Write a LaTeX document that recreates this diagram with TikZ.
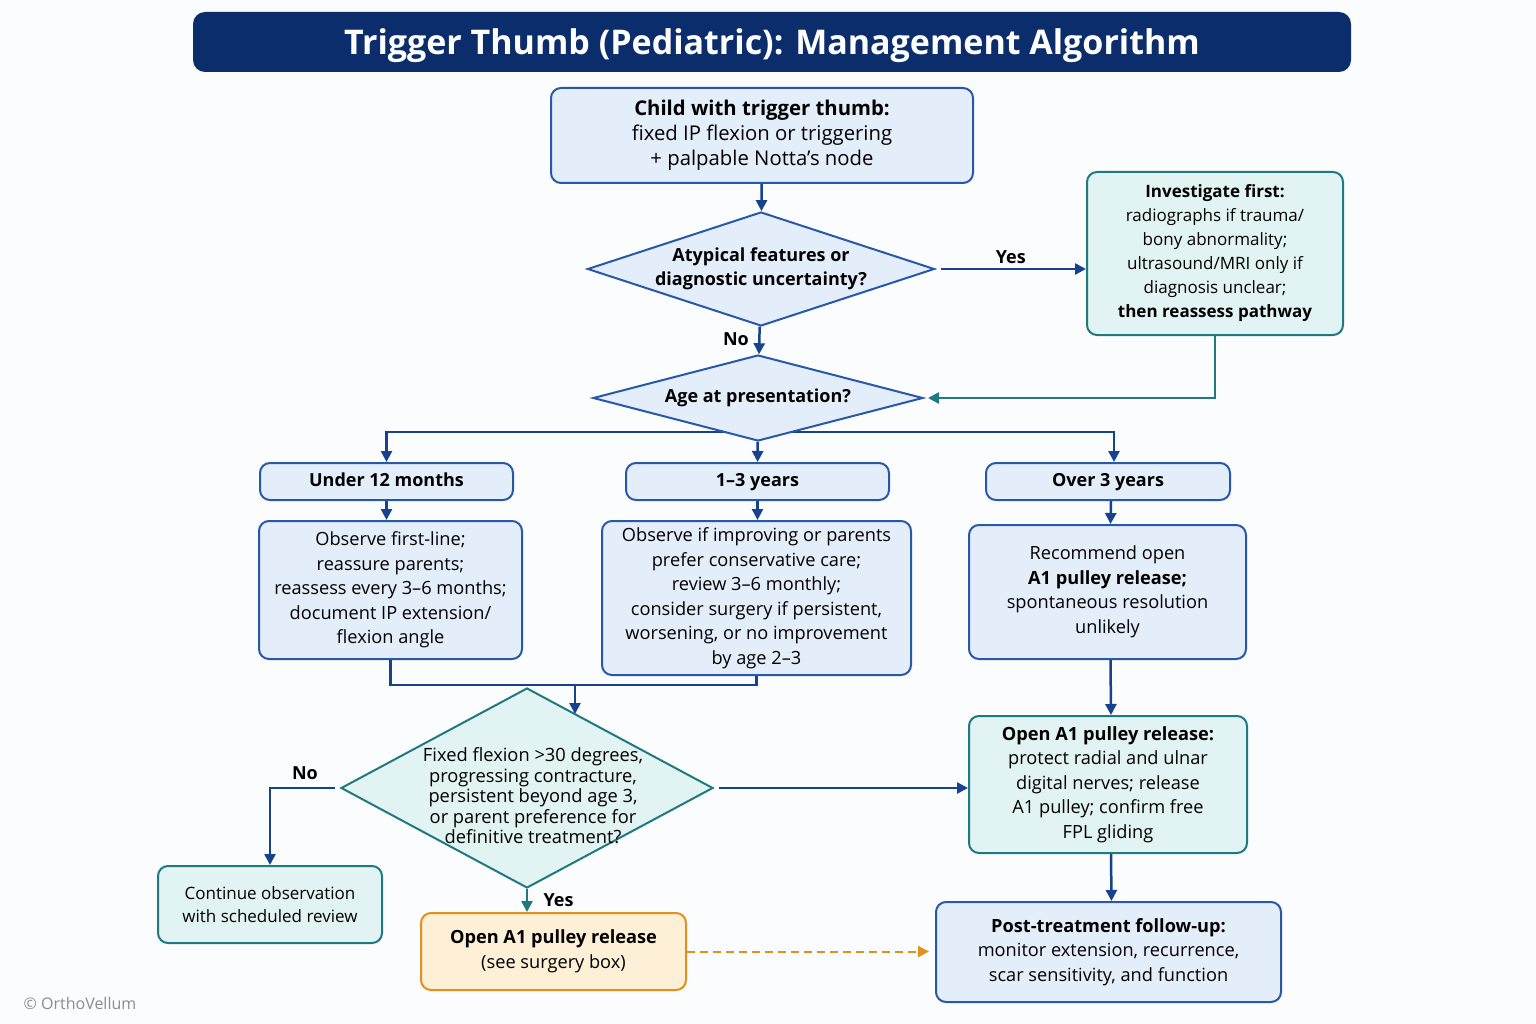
\documentclass[tikz,border=0pt]{standalone}
\usepackage{fontspec}
\setmainfont{Open Sans}
\usetikzlibrary{shapes.geometric,arrows.meta,backgrounds}
\definecolor{navy}{HTML}{0B2D6B}
\definecolor{boxblue}{HTML}{2858A8}
\definecolor{fillblue}{HTML}{E4EEFA}
\definecolor{tealline}{HTML}{1F7A80}
\definecolor{fillteal}{HTML}{E2F3F4}
\definecolor{orangeline}{HTML}{E0901C}
\definecolor{fillorange}{HTML}{FDF0D6}
\definecolor{arrowblue}{HTML}{17428E}
\definecolor{pagebg}{HTML}{FBFCFE}

\begin{document}
\begin{tikzpicture}[x=1pt, y=-1pt,
    bluebox/.style={rectangle, rounded corners=10pt, draw=boxblue, fill=fillblue, line width=2pt,
        align=center, inner sep=0pt, font=\fontsize{18.2}{24.5}\selectfont},
    tealbox/.style={bluebox, draw=tealline, fill=fillteal},
    orangebox/.style={bluebox, draw=orangeline, fill=fillorange},
    agebox/.style={bluebox, minimum height=37pt, text height=13pt, text depth=3pt, font=\bfseries\fontsize{18}{22}\selectfont},
    decision/.style={diamond, draw=boxblue, fill=fillblue, line width=2pt, align=center, inner sep=-40pt},
    flow/.style={draw=arrowblue, line width=2.5pt, -{Triangle[length=11pt,width=11pt]}},
    tealflow/.style={flow, draw=tealline},
    lbl/.style={font=\bfseries\fontsize{18}{20}\selectfont}]
    \useasboundingbox (0,0) rectangle (1536,1024);
    \begin{pgfonlayer}{background}
        \fill[pagebg] (0,0) rectangle (1536,1024);
    \end{pgfonlayer}

    % Title
    \node [rectangle, rounded corners=12pt, fill=navy, text=white, minimum width=1158pt, minimum height=60pt,
        text height=30pt, text depth=5pt, font=\bfseries\fontsize{34}{40}\selectfont] (title) at (772,42)
        {Trigger Thumb (Pediatric): Management Algorithm};

    % Presentation
    \node [bluebox, minimum width=422pt, minimum height=95pt, font=\fontsize{20.3}{25}\selectfont] (start) at (762,135.5)
        {\textbf{Child with trigger thumb:}\\fixed IP flexion or triggering\\+ palpable Notta's node};
    \node [decision, minimum width=347pt, minimum height=114pt, font=\bfseries\fontsize{18}{24.5}\selectfont] (atyp) at (761,269)
        {Atypical features or\\diagnostic uncertainty?};
    \node [tealbox, minimum width=256pt, minimum height=163pt, font=\fontsize{17}{24}\selectfont] (invest) at (1215,253.5)
        {\textbf{Investigate first:}\\radiographs if trauma/\\bony abnormality;\\ultrasound/MRI only if\\diagnosis unclear;\\\textbf{then reassess pathway}};
    \node [decision, minimum width=330pt, minimum height=86pt, font=\bfseries\fontsize{18}{24.5}\selectfont] (age) at (758,398)
        {Age at presentation?};

    % Age groups
    \node [agebox, minimum width=253pt] (under) at (386.5,481.5) {Under 12 months};
    \node [agebox, minimum width=263pt] (mid) at (757.5,481.5) {1–3 years};
    \node [agebox, minimum width=244pt] (over) at (1108,481.5) {Over 3 years};

    \node [bluebox, minimum width=263pt, minimum height=138pt] (obsyoung) at (390.5,590)
        {Observe first-line;\\reassure parents;\\reassess every 3–6 months;\\document IP extension/\\flexion angle};
    \node [bluebox, minimum width=309pt, minimum height=154pt] (obsmid) at (756.5,598)
        {Observe if improving or parents\\prefer conservative care;\\review 3–6 monthly;\\consider surgery if persistent,\\worsening, or no improvement\\by age 2–3};
    \node [bluebox, minimum width=277pt, minimum height=134pt] (recommend) at (1107.5,592)
        {Recommend open\\\textbf{A1 pulley release;}\\spontaneous resolution\\unlikely};

    % Decision for surgery
    \node [decision, draw=tealline, fill=fillteal, minimum width=372pt, minimum height=200pt, font=\fontsize{18.3}{20.5}\selectfont] (fixed) at (527,788)
        {\rule{0pt}{30pt}\hspace{12pt}Fixed flexion >30 degrees,\\\hspace{12pt}progressing contracture,\\\hspace{12pt}persistent beyond age 3,\\\hspace{12pt}or parent preference for\\\hspace{12pt}definitive treatment?};
    \node [tealbox, minimum width=224pt, minimum height=77pt, font=\fontsize{17}{23}\selectfont] (cont) at (270,904.5)
        {Continue observation\\with scheduled review};
    \node [orangebox, minimum width=265pt, minimum height=77pt] (release) at (553.5,951.5)
        {\textbf{Open A1 pulley release}\\(see surgery box)};
    \node [tealbox, minimum width=278pt, minimum height=137pt] (surgery) at (1108,784.5)
        {\textbf{Open A1 pulley release:}\\protect radial and ulnar\\digital nerves; release\\A1 pulley; confirm free\\FPL gliding};
    \node [bluebox, minimum width=345pt, minimum height=100pt] (follow) at (1108.5,952)
        {\textbf{Post-treatment follow-up:}\\monitor extension, recurrence,\\scar sensitivity, and function};

    % Footer
    \node [text=gray!90, font=\fontsize{16}{18}\selectfont] (copy) at (80,1003) {© OrthoVellum};

    % Joins
    \coordinate (split) at (760,432);
    \coordinate (merge) at (575,685);
    \coordinate (fixedin) at (575,714);

    % Arrows
    \draw[flow] (start) -- (atyp);
    \draw[flow, shorten <=5pt] (atyp.east) -- (atyp.east -| invest.west) node[lbl, midway, above=1pt] (yes1) {Yes};
    \draw[flow] (atyp) -- (age) node[lbl, pos=0.45, left=6pt] (no1) {No};
    \draw[tealflow, shorten >=4pt] (invest) |- (age.east);
    \begin{pgfonlayer}{background}
        \draw[flow] (split) -| (under);
        \draw[flow] (split) -| ([xshift=6pt]over.north);
    \end{pgfonlayer}
    \draw[flow] (age) -- (mid);
    \draw[flow] (under) -- (obsyoung.north -| under.south);
    \draw[flow] (mid) -- (obsmid.north -| mid.south);
    \draw[flow] ([xshift=3pt]over.south) -- ([xshift=3pt]recommend.north);
    \draw[draw=arrowblue, line width=2.5pt] (obsyoung) |- (merge) -| (obsmid);
    \draw[flow] (merge) -- (fixedin);
    \draw[flow, shorten <=5pt] (fixed.east) -- (fixed.east -| surgery.west);
    \draw[flow, shorten <=5pt] (fixed.west) -| (cont.north) node[lbl, pos=0.25, above=4pt] (no2) {No};
    \draw[tealflow] (fixed.south) -- (fixed.south |- release.north) node[lbl, midway, right=12pt] (yes2) {Yes};
    \draw[flow] ([xshift=3pt]recommend.south) -- ([xshift=3pt]surgery.north);
    \draw[flow] ([xshift=3pt]surgery.south) -- ([xshift=3pt]follow.north);
    \draw[draw=orangeline, line width=2pt, dashed, dash pattern=on 8pt off 5pt, -{Triangle[length=11pt,width=11pt]}, shorten >=6pt] (release.east) -- (release.east -| follow.west);
\end{tikzpicture}
\end{document}
